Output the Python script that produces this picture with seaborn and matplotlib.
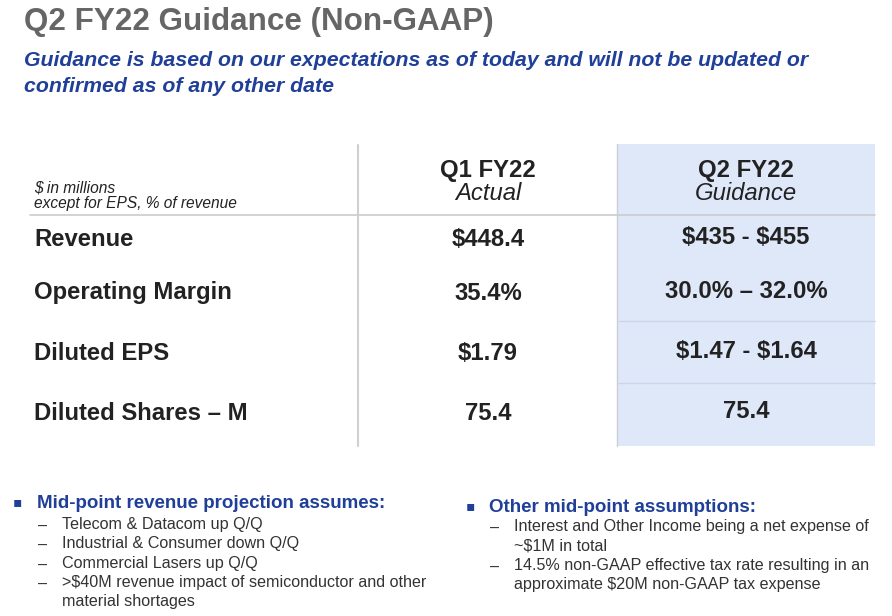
import matplotlib
matplotlib.use("Agg")
import matplotlib.pyplot as plt
import seaborn as sns

# ---- data ----
title = "Q2 FY22 Guidance (Non-GAAP)"
subtitle = ["Guidance is based on our expectations as of today and will not be updated or",
            "confirmed as of any other date"]
unit_note = ["$ in millions", "except for EPS, % of revenue"]
col_heads = [("Q1 FY22", "Actual"), ("Q2 FY22", "Guidance")]
metrics = ["Revenue", "Operating Margin", "Diluted EPS", "Diluted Shares – M"]
q1_actual = ["$448.4", "35.4%", "$1.79", "75.4"]
q2_guidance = ["$435 - $455", "30.0% – 32.0%", "$1.47 - $1.64", "75.4"]
left_head = "Mid-point revenue projection assumes:"
left_items = ["Telecom & Datacom up Q/Q",
              "Industrial & Consumer down Q/Q",
              "Commercial Lasers up Q/Q",
              ">$40M revenue impact of semiconductor and other\nmaterial shortages"]
right_head = "Other mid-point assumptions:"
right_items = ["Interest and Other Income being a net expense of\n~$1M in total",
               "14.5% non-GAAP effective tax rate resulting in an\napproximate $20M non-GAAP tax expense"]

sns.set_theme(style="white")
plt.rcParams['font.family'] = ['Liberation Sans', 'DejaVu Sans']
plt.rcParams['text.parse_math'] = False

W, H = 892, 616
fig = plt.figure(figsize=(W / 100, H / 100), dpi=100)
ax = fig.add_axes([0, 0, 1, 1])
ax.set_xlim(0, W)
ax.set_ylim(H, 0)
ax.axis("off")

BLUE = "#1f3f99"
DARK = "#222222"

# title
ax.text(24, 22, title, fontsize=22.6, fontweight="bold", color="#666666", va="center", ha="left")
ax.text(24, 60, subtitle[0], fontsize=15.3, fontweight="bold", style="italic", color=BLUE, va="center")
ax.text(24, 86, subtitle[1], fontsize=15.3, fontweight="bold", style="italic", color=BLUE, va="center")

# shaded guidance column
ax.add_patch(plt.Rectangle((617, 144), 258, 302, facecolor="#dfe8f9", edgecolor="none", zorder=0))
# grid lines
ax.plot([358, 358], [145, 446], color="#d0d0d0", lw=1.5)
ax.plot([617, 617], [144, 446], color="#c8cedb", lw=1)
ax.plot([30, 875], [215, 215], color="#cccccc", lw=1.2)
for yy in (321, 383):
    ax.plot([617, 875], [yy, yy], color="#cbd6ea", lw=1)

# header
ax.text(34, 193, unit_note[0], fontsize=11.2, style="italic", color=DARK, va="baseline")
ax.text(34, 208, unit_note[1], fontsize=11.2, style="italic", color=DARK, va="baseline")
col_x = [488, 746]
for cx, (h1, h2) in zip(col_x, col_heads):
    ax.text(cx, 177, h1, fontsize=17.2, fontweight="bold", color=DARK, ha="center", va="baseline")
    ax.text(cx, 200, h2, fontsize=17.2, style="italic", color=DARK, ha="center", va="baseline")

row_y = [240, 293, 353, 414]
row_y2 = [238, 291, 351, 411]
for y, y2, m, a, g in zip(row_y, row_y2, metrics, q1_actual, q2_guidance):
    ax.text(34, y, m, fontsize=17.2, fontweight="bold", color=DARK, va="center")
    ax.text(col_x[0], y, a, fontsize=17.2, fontweight="bold", color=DARK, ha="center", va="center")
    ax.text(col_x[1], y2, g, fontsize=17.2, fontweight="bold", color=DARK, ha="center", va="center")

# bullets
def bullet_block(xb, xh, xd, xt, yh, y0, head, items):
    ax.text(xb, yh - 1, "▪", fontsize=10, color=BLUE, va="center", ha="center", family=["DejaVu Sans"])
    ax.text(xh, yh, head, fontsize=13.5, fontweight="bold", color=BLUE, va="center")
    y = y0
    for it in items:
        lines = it.split("\n")
        ax.text(xd, y + 7, "–", fontsize=11.6, color="#333333", va="baseline")
        for ln in lines:
            ax.text(xt, y + 5, ln, fontsize=11.6, color="#333333", va="baseline")
            y += 19.3

bullet_block(17, 37, 38, 62, 503, 524, left_head, left_items)
bullet_block(470, 489, 490, 514, 507, 526, right_head, right_items)

fig.savefig("out.png", dpi=100)
